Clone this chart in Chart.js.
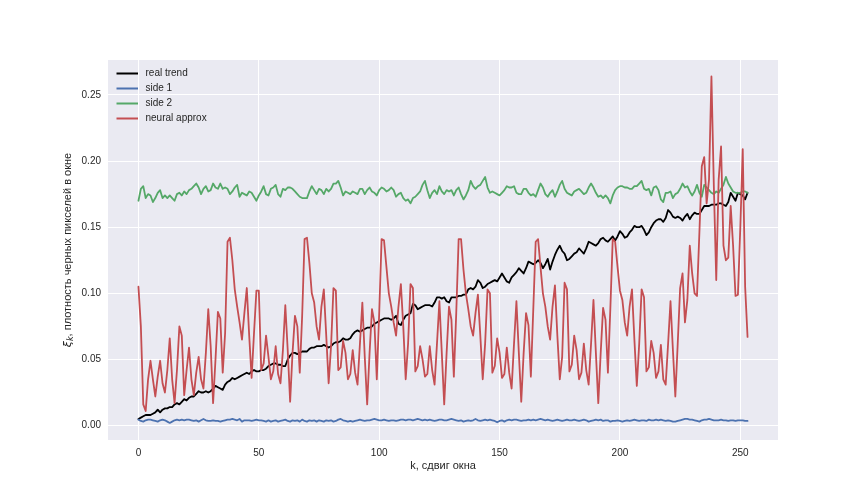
<!DOCTYPE html>
<html>
<head>
<meta charset="utf-8">
<script src="https://cdn.jsdelivr.net/npm/chart.js@4.4.1/dist/chart.umd.min.js"></script>
<style>
  html, body { margin: 0; padding: 0; background: #ffffff; }
  #wrap { width: 864px; height: 504px; }
</style>
</head>
<body>
<div id="wrap"><canvas id="trend_chart" width="864" height="504"></canvas></div>
<script>
// values, one per window shift k = 0..253
const realTrend = [
  0.005, 0.006, 0.007, 0.008, 0.008, 0.008, 0.009, 0.010, 0.012, 0.010,
  0.012, 0.013, 0.013, 0.014, 0.014, 0.016, 0.017, 0.016, 0.018, 0.020,
  0.019, 0.021, 0.022, 0.022, 0.024, 0.026, 0.025, 0.025, 0.026, 0.025,
  0.026, 0.028, 0.030, 0.029, 0.028, 0.027, 0.031, 0.033, 0.034, 0.036,
  0.035, 0.036, 0.037, 0.038, 0.039, 0.040, 0.039, 0.041, 0.042, 0.041,
  0.041, 0.042, 0.042, 0.043, 0.045, 0.046, 0.047, 0.047, 0.046, 0.046,
  0.045, 0.045, 0.050, 0.053, 0.055, 0.055, 0.054, 0.055, 0.056, 0.056,
  0.056, 0.058, 0.059, 0.059, 0.060, 0.060, 0.060, 0.061, 0.060, 0.059,
  0.060, 0.062, 0.063, 0.063, 0.064, 0.066, 0.065, 0.065, 0.066, 0.069,
  0.071, 0.072, 0.071, 0.072, 0.073, 0.074, 0.074, 0.075, 0.077, 0.078,
  0.079, 0.080, 0.081, 0.081, 0.081, 0.080, 0.081, 0.083, 0.077, 0.076,
  0.080, 0.083, 0.084, 0.085, 0.092, 0.091, 0.088, 0.089, 0.090, 0.091,
  0.091, 0.091, 0.090, 0.093, 0.097, 0.097, 0.096, 0.097, 0.094, 0.093,
  0.097, 0.097, 0.097, 0.098, 0.098, 0.099, 0.099, 0.103, 0.104, 0.103,
  0.105, 0.110, 0.108, 0.104, 0.105, 0.107, 0.108, 0.109, 0.110, 0.109,
  0.112, 0.115, 0.112, 0.109, 0.108, 0.112, 0.114, 0.116, 0.119, 0.117,
  0.115, 0.119, 0.124, 0.123, 0.122, 0.123, 0.125, 0.123, 0.119, 0.122,
  0.126, 0.118, 0.124, 0.129, 0.133, 0.136, 0.132, 0.130, 0.125, 0.126,
  0.128, 0.130, 0.131, 0.134, 0.132, 0.130, 0.134, 0.139, 0.138, 0.137,
  0.136, 0.138, 0.141, 0.142, 0.140, 0.139, 0.141, 0.143, 0.140, 0.143,
  0.147, 0.145, 0.142, 0.143, 0.146, 0.148, 0.151, 0.150, 0.150, 0.151,
  0.148, 0.144, 0.146, 0.150, 0.153, 0.155, 0.156, 0.156, 0.154, 0.157,
  0.163, 0.161, 0.158, 0.157, 0.158, 0.157, 0.155, 0.158, 0.160, 0.156,
  0.159, 0.161, 0.160, 0.160, 0.163, 0.166, 0.166, 0.166, 0.167, 0.167,
  0.167, 0.168, 0.168, 0.167, 0.166, 0.169, 0.176, 0.173, 0.170, 0.176,
  0.175, 0.174, 0.171, 0.176
];

const side1 = [
  0.0045, 0.0035, 0.0030, 0.0040, 0.0045, 0.0045, 0.0040, 0.0035, 0.0030, 0.0040,
  0.0045, 0.0040, 0.0030, 0.0020, 0.0030, 0.0040, 0.0045, 0.0040, 0.0045, 0.0040,
  0.0045, 0.0045, 0.0040, 0.0035, 0.0040, 0.0030, 0.0040, 0.0050, 0.0040, 0.0035,
  0.0035, 0.0040, 0.0035, 0.0035, 0.0030, 0.0035, 0.0040, 0.0045, 0.0045, 0.0050,
  0.0045, 0.0040, 0.0050, 0.0030, 0.0040, 0.0040, 0.0040, 0.0035, 0.0040, 0.0045,
  0.0040, 0.0040, 0.0035, 0.0030, 0.0040, 0.0030, 0.0035, 0.0040, 0.0030, 0.0035,
  0.0040, 0.0045, 0.0035, 0.0030, 0.0040, 0.0035, 0.0040, 0.0030, 0.0045, 0.0035,
  0.0030, 0.0040, 0.0035, 0.0040, 0.0030, 0.0040, 0.0035, 0.0030, 0.0040, 0.0035,
  0.0040, 0.0030, 0.0035, 0.0045, 0.0050, 0.0040, 0.0035, 0.0030, 0.0035, 0.0030,
  0.0035, 0.0040, 0.0045, 0.0040, 0.0035, 0.0040, 0.0040, 0.0045, 0.0050, 0.0045,
  0.0040, 0.0040, 0.0045, 0.0040, 0.0035, 0.0040, 0.0040, 0.0035, 0.0040, 0.0045,
  0.0045, 0.0040, 0.0045, 0.0045, 0.0040, 0.0045, 0.0050, 0.0045, 0.0040, 0.0045,
  0.0040, 0.0045, 0.0040, 0.0035, 0.0040, 0.0045, 0.0045, 0.0040, 0.0040, 0.0045,
  0.0050, 0.0045, 0.0040, 0.0035, 0.0040, 0.0030, 0.0035, 0.0040, 0.0035, 0.0040,
  0.0050, 0.0040, 0.0035, 0.0040, 0.0045, 0.0040, 0.0045, 0.0040, 0.0035, 0.0025,
  0.0035, 0.0040, 0.0030, 0.0040, 0.0045, 0.0040, 0.0045, 0.0045, 0.0040, 0.0035,
  0.0040, 0.0040, 0.0045, 0.0040, 0.0045, 0.0040, 0.0045, 0.0050, 0.0045, 0.0040,
  0.0045, 0.0040, 0.0035, 0.0040, 0.0045, 0.0040, 0.0035, 0.0040, 0.0045, 0.0040,
  0.0040, 0.0045, 0.0040, 0.0035, 0.0040, 0.0045, 0.0040, 0.0030, 0.0035, 0.0040,
  0.0045, 0.0040, 0.0045, 0.0035, 0.0040, 0.0040, 0.0030, 0.0035, 0.0035, 0.0040,
  0.0035, 0.0030, 0.0035, 0.0040, 0.0035, 0.0040, 0.0045, 0.0040, 0.0035, 0.0040,
  0.0040, 0.0035, 0.0045, 0.0040, 0.0040, 0.0045, 0.0040, 0.0045, 0.0040, 0.0035,
  0.0040, 0.0035, 0.0030, 0.0030, 0.0035, 0.0040, 0.0045, 0.0050, 0.0050, 0.0045,
  0.0045, 0.0040, 0.0035, 0.0030, 0.0040, 0.0045, 0.0045, 0.0050, 0.0045, 0.0040,
  0.0040, 0.0040, 0.0045, 0.0040, 0.0040, 0.0035, 0.0040, 0.0040, 0.0035, 0.0040,
  0.0040, 0.0040, 0.0035, 0.0035
];

const side2 = [
  0.170, 0.179, 0.181, 0.172, 0.175, 0.174, 0.169, 0.172, 0.176, 0.178,
  0.172, 0.174, 0.172, 0.174, 0.172, 0.170, 0.175, 0.176, 0.174, 0.177,
  0.175, 0.178, 0.179, 0.181, 0.183, 0.180, 0.175, 0.179, 0.181, 0.177,
  0.178, 0.183, 0.180, 0.179, 0.183, 0.179, 0.180, 0.179, 0.175, 0.177,
  0.180, 0.182, 0.173, 0.176, 0.175, 0.174, 0.177, 0.176, 0.173, 0.170,
  0.174, 0.177, 0.181, 0.175, 0.174, 0.179, 0.180, 0.182, 0.175, 0.173,
  0.179, 0.178, 0.180, 0.180, 0.179, 0.177, 0.175, 0.173, 0.172, 0.172,
  0.172, 0.177, 0.181, 0.178, 0.175, 0.179, 0.178, 0.175, 0.179, 0.177,
  0.179, 0.183, 0.183, 0.185, 0.180, 0.174, 0.177, 0.176, 0.175, 0.177,
  0.176, 0.175, 0.179, 0.179, 0.175, 0.178, 0.180, 0.177, 0.176, 0.174,
  0.178, 0.180, 0.179, 0.177, 0.178, 0.180, 0.178, 0.173, 0.175, 0.176,
  0.172, 0.170, 0.171, 0.168, 0.172, 0.173, 0.175, 0.177, 0.182, 0.185,
  0.178, 0.172, 0.176, 0.178, 0.175, 0.181, 0.177, 0.175, 0.178, 0.177,
  0.178, 0.174, 0.178, 0.180, 0.175, 0.171, 0.174, 0.178, 0.185, 0.181,
  0.179, 0.181, 0.182, 0.185, 0.188, 0.180, 0.176, 0.177, 0.176, 0.175,
  0.174, 0.176, 0.178, 0.181, 0.180, 0.180, 0.181, 0.176, 0.175, 0.175,
  0.179, 0.179, 0.176, 0.174, 0.175, 0.173, 0.178, 0.183, 0.180, 0.175,
  0.173, 0.176, 0.178, 0.173, 0.177, 0.182, 0.185, 0.179, 0.176, 0.175,
  0.174, 0.177, 0.178, 0.179, 0.177, 0.175, 0.176, 0.180, 0.183, 0.180,
  0.176, 0.173, 0.174, 0.172, 0.174, 0.172, 0.168, 0.174, 0.178, 0.180,
  0.181, 0.181, 0.180, 0.180, 0.179, 0.179, 0.181, 0.181, 0.183, 0.185,
  0.179, 0.178, 0.179, 0.174, 0.180, 0.181, 0.178, 0.171, 0.169, 0.176,
  0.176, 0.177, 0.172, 0.175, 0.176, 0.179, 0.183, 0.180, 0.181, 0.177,
  0.174, 0.177, 0.182, 0.176, 0.173, 0.182, 0.180, 0.178, 0.176, 0.175,
  0.177, 0.176, 0.179, 0.182, 0.188, 0.183, 0.180, 0.177, 0.176, 0.176,
  0.176, 0.177, 0.177, 0.176
];

const neuralApprox = [
  0.105, 0.075, 0.016, 0.011, 0.035, 0.049, 0.035, 0.022, 0.037, 0.049,
  0.032, 0.025, 0.042, 0.066, 0.035, 0.017, 0.042, 0.075, 0.068, 0.023,
  0.042, 0.059, 0.035, 0.023, 0.040, 0.052, 0.035, 0.028, 0.055, 0.088,
  0.060, 0.017, 0.050, 0.086, 0.081, 0.040, 0.070, 0.139, 0.142, 0.125,
  0.103, 0.090, 0.078, 0.065, 0.085, 0.104, 0.068, 0.036, 0.070, 0.102,
  0.102, 0.042, 0.047, 0.068, 0.052, 0.035, 0.041, 0.060, 0.039, 0.032,
  0.057, 0.091, 0.057, 0.018, 0.055, 0.083, 0.075, 0.040, 0.083, 0.141,
  0.142, 0.123, 0.100, 0.093, 0.075, 0.065, 0.090, 0.103, 0.068, 0.032,
  0.060, 0.104, 0.102, 0.042, 0.044, 0.064, 0.055, 0.035, 0.039, 0.057,
  0.040, 0.031, 0.062, 0.093, 0.052, 0.016, 0.055, 0.088, 0.078, 0.035,
  0.085, 0.141, 0.140, 0.120, 0.100, 0.090, 0.078, 0.068, 0.090, 0.107,
  0.075, 0.035, 0.062, 0.107, 0.104, 0.041, 0.045, 0.060, 0.050, 0.037,
  0.039, 0.060, 0.042, 0.031, 0.062, 0.094, 0.055, 0.016, 0.055, 0.090,
  0.080, 0.037, 0.085, 0.141, 0.141, 0.118, 0.100, 0.088, 0.075, 0.068,
  0.085, 0.099, 0.068, 0.035, 0.062, 0.103, 0.100, 0.040, 0.045, 0.066,
  0.055, 0.036, 0.039, 0.059, 0.040, 0.028, 0.062, 0.094, 0.055, 0.018,
  0.055, 0.085, 0.076, 0.037, 0.088, 0.139, 0.141, 0.120, 0.100, 0.090,
  0.075, 0.065, 0.090, 0.106, 0.068, 0.035, 0.052, 0.108, 0.103, 0.041,
  0.046, 0.068, 0.057, 0.035, 0.040, 0.062, 0.042, 0.031, 0.062, 0.095,
  0.055, 0.017, 0.055, 0.089, 0.080, 0.040, 0.088, 0.141, 0.139, 0.120,
  0.102, 0.095, 0.078, 0.068, 0.090, 0.103, 0.065, 0.030, 0.062, 0.103,
  0.097, 0.041, 0.044, 0.064, 0.055, 0.036, 0.041, 0.061, 0.035, 0.031,
  0.062, 0.094, 0.057, 0.022, 0.062, 0.104, 0.115, 0.078, 0.095, 0.136,
  0.115, 0.100, 0.098, 0.146, 0.196, 0.203, 0.168, 0.186, 0.264, 0.181,
  0.110, 0.186, 0.211, 0.136, 0.125, 0.127, 0.166, 0.136, 0.098, 0.099,
  0.150, 0.209, 0.105, 0.067
];

const xTicks = [0, 50, 100, 150, 200, 250];
const yTicks = [0.00, 0.05, 0.10, 0.15, 0.20, 0.25];
const xLabel = 'k, сдвиг окна';
const yLabel = ', плотность черных пикселей в окне';

const textColor = '#262626';
const tickFont = { family: 'Liberation Sans', size: 10 };

// pair each value with its shift k
function toPoints (values) {
    return values.map((v, k) => ({ x: k, y: v }));
}

// grey plot background like seaborn darkgrid
const plotBackground = {
    id: 'plotBackground',
    beforeDraw (chart) {
        const { ctx, chartArea: a } = chart;
        ctx.save();
        ctx.fillStyle = '#ffffff';
        ctx.fillRect(0, 0, chart.width, chart.height);
        ctx.fillStyle = '#EAEAF2';
        ctx.fillRect(a.left, a.top, a.right - a.left, a.bottom - a.top);
        ctx.restore();
    }
};

// legend inside the axes (top left, no frame) and both axis titles
const innerLegend = {
    id: 'innerLegend',
    afterDraw (chart) {
        const { ctx, chartArea: a } = chart;
        ctx.save();
        ctx.font = '10px "Liberation Sans"';
        ctx.textBaseline = 'middle';
        chart.data.datasets.forEach((ds, i) => {
            const y = a.top + 13.5 + i * 15;
            ctx.strokeStyle = ds.borderColor;
            ctx.lineWidth = 2;
            ctx.beginPath();
            ctx.moveTo(a.left + 8.5, y);
            ctx.lineTo(a.left + 30, y);
            ctx.stroke();
            ctx.fillStyle = textColor;
            ctx.fillText(ds.label, a.left + 37.5, y);
        });

        // x title
        ctx.font = '11px "Liberation Sans"';
        ctx.textAlign = 'center';
        ctx.fillText(xLabel, (a.left + a.right) / 2, 466);

        // y title: italic xi with subscript k, then the rest
        ctx.translate(68, (a.top + a.bottom) / 2);
        ctx.rotate(-Math.PI / 2);
        ctx.textAlign = 'left';
        const fXi = 'italic 11px "DejaVu Sans"';
        const fK = 'italic 8px "DejaVu Sans"';
        const fRest = '11px "Liberation Sans"';
        ctx.font = fXi; const wXi = ctx.measureText('ξ').width;
        ctx.font = fK; const wK = ctx.measureText('k').width;
        ctx.font = fRest; const wRest = ctx.measureText(yLabel).width;
        let x = -(wXi + wK + wRest) / 2;
        ctx.font = fXi; ctx.fillText('ξ', x, 0); x += wXi;
        ctx.font = fK; ctx.fillText('k', x, 3); x += wK;
        ctx.font = fRest; ctx.fillText(yLabel, x, 0);
        ctx.restore();
    }
};

const ctx = document.getElementById('trend_chart');
new Chart(ctx, {
    type: 'line',
    data: {
        datasets: [
            { label: 'real trend', data: toPoints(realTrend), borderColor: '#000000', order: 3 },
            { label: 'side 1', data: toPoints(side1), borderColor: '#4C72B0', order: 2 },
            { label: 'side 2', data: toPoints(side2), borderColor: '#55A868', order: 1 },
            { label: 'neural approx', data: toPoints(neuralApprox), borderColor: '#C44E52', order: 0 }
        ]
    },
    options: {
        responsive: false,
        animation: false,
        devicePixelRatio: 1,
        layout: { padding: { left: 0, right: 86, top: 60, bottom: 0 } },
        elements: {
            point: { radius: 0 },
            line: { borderWidth: 1.8, tension: 0, fill: false, borderJoinStyle: 'round', borderCapStyle: 'round' }
        },
        plugins: {
            legend: { display: false },
            tooltip: { enabled: false }
        },
        scales: {
            x: {
                type: 'linear',
                min: -12.65,
                max: 265.65,
                afterFit: s => { s.height = 64; },
                afterBuildTicks: s => { s.ticks = xTicks.map(v => ({ value: v })); },
                grid: { color: '#ffffff', lineWidth: 1, drawTicks: false },
                border: { display: false },
                ticks: { color: textColor, font: tickFont, padding: 7, maxRotation: 0 }
            },
            y: {
                type: 'linear',
                min: -0.0109,
                max: 0.2764,
                afterFit: s => { s.width = 108; },
                afterBuildTicks: s => { s.ticks = yTicks.map(v => ({ value: v })); },
                grid: { color: '#ffffff', lineWidth: 1, drawTicks: false },
                border: { display: false },
                ticks: {
                    color: textColor,
                    font: tickFont,
                    padding: 7,
                    callback: v => v.toFixed(2)
                }
            }
        }
    },
    plugins: [plotBackground, innerLegend]
});
</script>
</body>
</html>
